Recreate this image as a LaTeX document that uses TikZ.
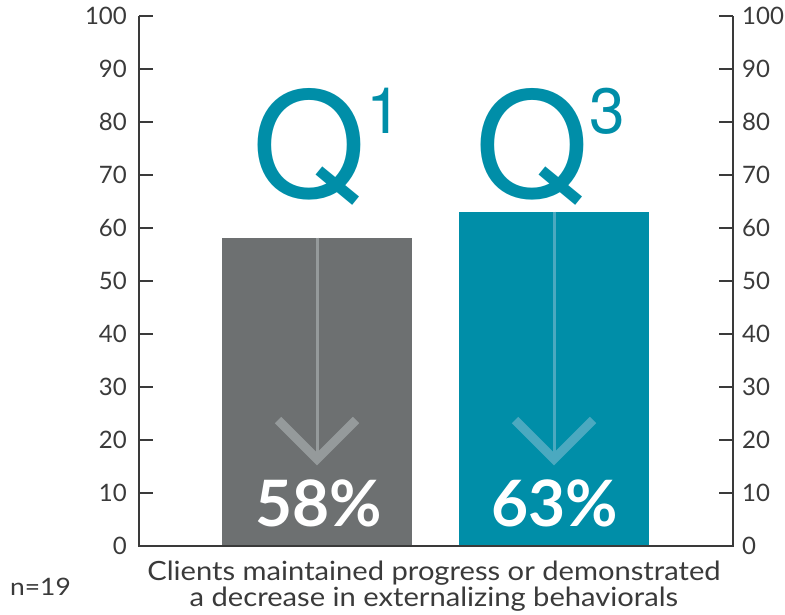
\documentclass[tikz,border=0pt]{standalone}
\usepackage{fontspec}
\setmainfont{Lato}
\newfontfamily\qfont{TeX Gyre Heros}
\newfontfamily\capfont[FakeStretch=1.1]{Lato}
\usetikzlibrary{positioning}
\definecolor{bargray}{HTML}{6D7071}
\definecolor{barteal}{HTML}{008EA8}
\definecolor{arrowgray}{HTML}{959A9B}
\definecolor{arrowteal}{HTML}{4BA9C0}
\definecolor{axisdark}{HTML}{3A3A3A}
\tikzset{
  ticklabel/.style={font=\fontsize{24}{24}\selectfont,text=axisdark},
  qletter/.style={font=\qfont\fontsize{146}{146}\selectfont,text=barteal},
  qsup/.style={font=\qfont\fontsize{64}{64}\selectfont,text=barteal},
  percent/.style={font=\fontsize{64}{64}\selectfont\bfseries,text=white},
  caption/.style={font=\capfont\fontsize{26.5}{26.5}\selectfont,text=axisdark}
}

\begin{document}
\begin{tikzpicture}[x=1pt,y=-1pt,inner sep=0pt]
    \useasboundingbox (0,0) rectangle (785,615);

    % Bars
    \node (bar_q1) [fill=bargray,minimum width=190pt,minimum height=308pt,anchor=south west] at (222,546) {};
    \node (bar_q3) [fill=barteal,minimum width=190pt,minimum height=334pt,anchor=south west] at (459,546) {};

    % Axes with ticks
    \draw[axisdark,line width=2pt] (139,16) -- (139,546) -- (733,546) -- (733,16);
    \foreach \v in {0,10,...,100} {
        \draw[axisdark,line width=2pt] (139,546-5.3*\v) -- ++(14,0);
        \draw[axisdark,line width=2pt] (733,546-5.3*\v) -- ++(-14,0);
        \node (left_\v) [ticklabel,anchor=east] at (127,546-5.3*\v) {\v};
        \node (right_\v) [ticklabel,anchor=west] at (742,546-5.3*\v) {\v};
    }

    % Quarter labels
    \node (q1_label) [qletter,anchor=north] at (309,88) {Q};
    \node (q1_sup) [qsup,anchor=north west] at (q1_label.north east) {1};
    \node (q3_label) [qletter,anchor=north] at (532,88) {Q};
    \node (q3_sup) [qsup,anchor=north west] at (q3_label.north east) {3};

    % Downward arrows
    \coordinate (tip_q1) at (317,459);
    \coordinate (tip_q3) at (554,459);
    \draw[arrowgray,line width=3pt] (bar_q1.north -| tip_q1) -- (tip_q1);
    \draw[arrowgray,line width=9pt,miter limit=4] (tip_q1) ++(-39,-39) -- (tip_q1) -- ++(39,-39);
    \draw[arrowteal,line width=3pt] (bar_q3.north -| tip_q3) -- (tip_q3);
    \draw[arrowteal,line width=9pt,miter limit=4] (tip_q3) ++(-39,-39) -- (tip_q3) -- ++(39,-39);

    % Percentages
    \node (pct_q1) [percent,anchor=base] at (319,526) {58\%};
    \node (pct_q3) [percent,anchor=base] at (555,526) {63\%};

    % Caption
    \node (caption1) [caption,anchor=base] at (434,580) {Clients maintained progress or demonstrated};
    \node (caption2) [caption,anchor=base] at (434,606) {a decrease in externalizing behaviorals};
    \node (sample) [anchor=base west,font=\capfont\fontsize{24}{24}\selectfont,text=axisdark] at (10,595) {n=19};
\end{tikzpicture}
\end{document}
